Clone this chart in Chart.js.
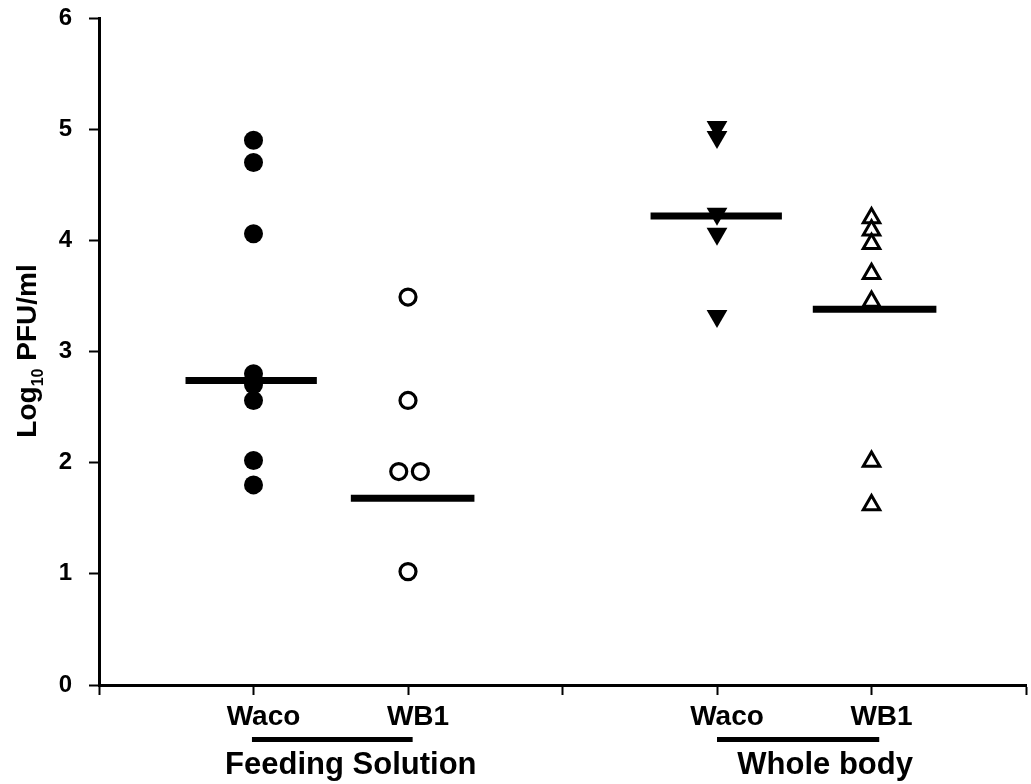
<!DOCTYPE html>
<html>
<head>
<meta charset="utf-8">
<script src="https://cdn.jsdelivr.net/npm/chart.js@4/dist/chart.umd.min.js"></script>
<style>
  html, body { margin: 0; padding: 0; background: #fff; }
  #wrap { width: 1031px; height: 784px; }
</style>
</head>
<body>
<div id="wrap"><canvas id="chart" width="1031" height="784"></canvas></div>
<script>
// tick labels on the x axis (one per integer position 0..6)
const xTickLabels = ['', 'Waco', 'WB1', '', 'Waco', 'WB1', ''];
const yTicks = [0, 1, 2, 3, 4, 5, 6];

// x position of each group of points
const groupX = [1, 2, 4, 5];

// Log10 PFU/ml values
const feedWaco = [4.90, 4.70, 4.06, 2.80, 2.70, 2.56, 2.02, 1.80];
const feedWB1 = [3.49, 2.56, 1.92, 1.92, 1.02];
const feedWB1Jitter = [0, 0, -0.06, 0.08, 0];
const bodyWaco = [5.02, 4.93, 4.24, 4.06, 3.32];
const bodyWB1 = [4.20, 4.09, 3.97, 3.70, 3.45, 2.01, 1.62];

// horizontal summary lines: value and x extent
const summaryValues = [2.74, 1.68, 4.22, 3.38];
const summaryFrom = [0.56, 1.63, 3.57, 4.62];
const summaryTo = [1.41, 2.43, 4.42, 5.42];

// group captions under the axis
const groupNames = ['Feeding Solution', 'Whole body'];
const groupNameX = [1.63, 4.70];
const groupBarFrom = [0.99, 4.0];
const groupBarTo = [2.03, 5.05];

const FONT = '"Liberation Sans", Arial, Helvetica, sans-serif';

function pts(values, x, jitter) {
  return values.map((v, i) => ({ x: x + (jitter ? jitter[i] : 0), y: v }));
}

const summaryDatasets = summaryValues.map((v, i) => ({
  type: 'line',
  data: [{ x: summaryFrom[i], y: v }, { x: summaryTo[i], y: v }],
  borderColor: '#000',
  borderWidth: 7,
  borderCapStyle: 'butt',
  pointRadius: 0,
  showLine: true,
  fill: false
}));

// y axis title with a real subscript, and the group captions with their bars
const captionPlugin = {
  id: 'captions',
  afterDraw(chart) {
    const ctx = chart.ctx;
    const x = chart.scales.x;
    ctx.save();
    ctx.fillStyle = '#000';

    // group bars and names
    groupNames.forEach((name, i) => {
      const x0 = x.getPixelForValue(groupBarFrom[i]);
      const x1 = x.getPixelForValue(groupBarTo[i]);
      ctx.fillRect(x0, 737, x1 - x0, 5);
      ctx.font = 'bold 31px ' + FONT;
      ctx.textAlign = 'center';
      ctx.textBaseline = 'alphabetic';
      ctx.fillText(name, x.getPixelForValue(groupNameX[i]), 774);
    });

    // rotated y title: Log10 PFU/ml
    ctx.translate(36, 351);
    ctx.rotate(-Math.PI / 2);
    const big = 'bold 28px ' + FONT;
    const small = 'bold 16px ' + FONT;
    ctx.font = big;
    const w1 = ctx.measureText('Log').width;
    const w3 = ctx.measureText(' PFU/ml').width;
    ctx.font = small;
    const w2 = ctx.measureText('10').width;
    let px = -(w1 + w2 + w3) / 2;
    ctx.textAlign = 'left';
    ctx.font = big;
    ctx.fillText('Log', px, 0);
    px += w1;
    ctx.font = small;
    ctx.fillText('10', px, 7);
    px += w2;
    ctx.font = big;
    ctx.fillText(' PFU/ml', px, 0);
    ctx.restore();
  }
};

new Chart(document.getElementById('chart'), {
  type: 'scatter',
  data: {
    datasets: [
      {
        data: pts(feedWaco, groupX[0]),
        pointStyle: 'circle',
        pointRadius: 9.5,
        pointBackgroundColor: '#000',
        pointBorderWidth: 0
      },
      {
        data: pts(feedWB1, groupX[1], feedWB1Jitter),
        pointStyle: 'circle',
        pointRadius: 8,
        pointBackgroundColor: '#fff',
        pointBorderColor: '#000',
        pointBorderWidth: 3.2
      },
      {
        data: pts(bodyWaco, groupX[2]),
        pointStyle: 'triangle',
        rotation: 180,
        pointRadius: 12,
        pointBackgroundColor: '#000',
        pointBorderColor: '#000',
        pointBorderWidth: 0
      },
      {
        data: pts(bodyWB1, groupX[3]),
        pointStyle: 'triangle',
        pointRadius: 9.5,
        pointBackgroundColor: '#fff',
        pointBorderColor: '#000',
        pointBorderWidth: 3
      },
      ...summaryDatasets
    ]
  },
  options: {
    responsive: false,
    animation: false,
    layout: { autoPadding: false, padding: { left: 0, top: 18, right: 5, bottom: 0 } },
    plugins: {
      legend: { display: false },
      tooltip: { enabled: false }
    },
    scales: {
      x: {
        type: 'linear',
        min: 0,
        max: 6,
        afterFit(scale) {
          scale.height = 99;
          scale.paddingLeft = 0;
          scale.paddingRight = 0;
        },
        afterBuildTicks(scale) { scale.ticks = xTickLabels.map((_, i) => ({ value: i })); },
        ticks: {
          autoSkip: false,
          maxRotation: 0,
          padding: 5,
          labelOffset: 10,
          color: '#000',
          font: { family: FONT, size: 28, weight: 'bold' },
          callback: (v) => xTickLabels[v] || ''
        },
        grid: {
          drawOnChartArea: false,
          drawTicks: true,
          tickLength: 10,
          tickWidth: 2,
          tickColor: '#000'
        },
        border: { display: true, color: '#000', width: 3 }
      },
      y: {
        min: 0,
        max: 6,
        afterFit(scale) {
          scale.width = 99;
          scale.paddingTop = 0;
          scale.paddingBottom = 0;
        },
        afterBuildTicks(scale) { scale.ticks = yTicks.map(v => ({ value: v })); },
        ticks: {
          padding: 17,
          color: '#000',
          font: { family: FONT, size: 24, weight: 'bold' },
          callback: (v) => String(v)
        },
        grid: {
          drawOnChartArea: false,
          drawTicks: true,
          tickLength: 10,
          tickWidth: 2,
          tickColor: '#000'
        },
        border: { display: true, color: '#000', width: 3 }
      }
    }
  },
  plugins: [captionPlugin]
});
</script>
</body>
</html>
